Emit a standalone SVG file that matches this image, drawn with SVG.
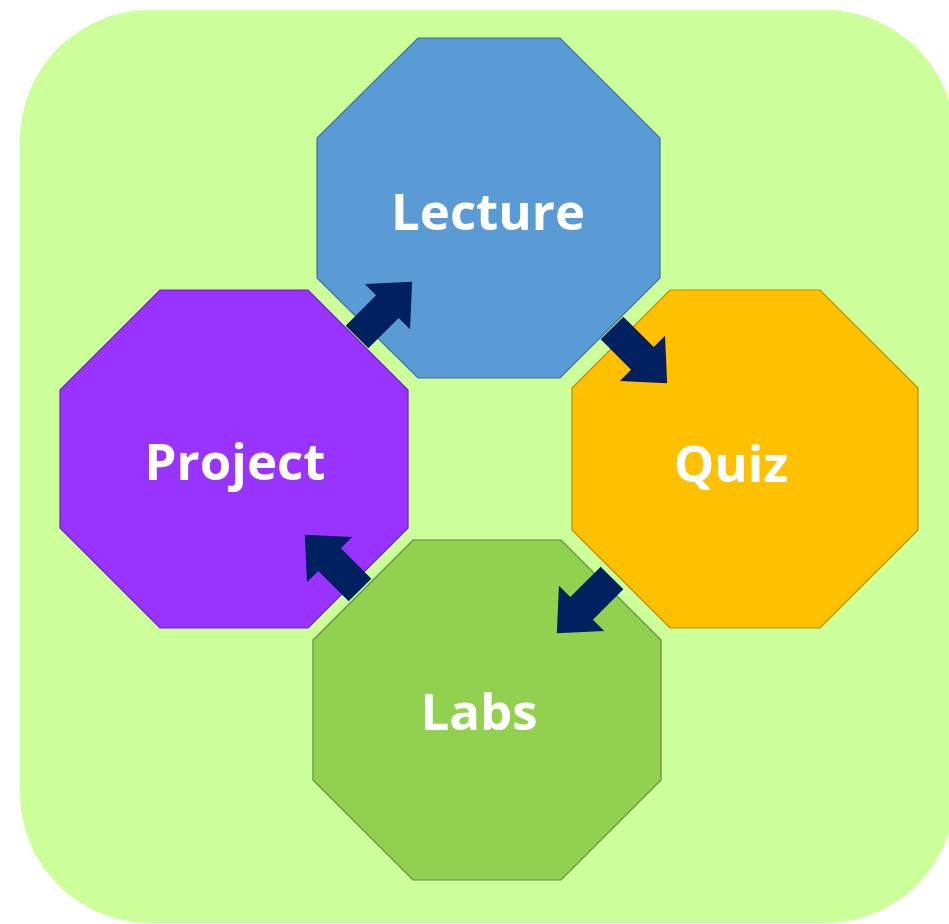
<svg xmlns="http://www.w3.org/2000/svg" width="949" height="924" viewBox="0 0 949 924">
  <defs>
    <style>
      .oct { stroke-width: 1.2; }
      .lbl { font-family: "Open Sans", "Liberation Sans", sans-serif; font-weight: 700; font-size: 51px; fill: #ffffff; text-anchor: middle; }
      .arr { fill: #002060; }
    </style>
    <path id="arrowShape" d="M0,-16 L43,-16 L43,-32 L78,0 L43,32 L43,16 L0,16 Z"/>
  </defs>
  <rect x="0" y="0" width="949" height="924" fill="#ffffff"/>
  <rect id="background" x="20" y="10" width="935" height="913" rx="130" ry="130" fill="#ccff99"/>

  <g id="node-lecture">
    <polygon class="oct" points="418,38 560,38 660,138 660,278 560,378 418,378 317,278 317,138" fill="#5b9bd5" stroke="#41719c"/>
    <text class="lbl" x="488" y="230">Lecture</text>
  </g>
  <g id="node-project">
    <polygon class="oct" points="160,290 308,290 408,390 408,528 308,628 160,628 60,528 60,390" fill="#9933ff" stroke="#7020c0"/>
    <text class="lbl" x="235" y="480">Project</text>
  </g>
  <g id="node-quiz">
    <polygon class="oct" points="670,290 820,290 918,388 918,530 820,628 670,628 572,530 572,388" fill="#ffc000" stroke="#bc8c00"/>
    <text class="lbl" x="731" y="482">Quiz</text>
  </g>
  <g id="node-labs">
    <polygon class="oct" points="413,540 561,540 661,640 661,780 561,880 413,880 313,780 313,640" fill="#92d050" stroke="#5e8f3a"/>
    <text class="lbl" x="479" y="730">Labs</text>
  </g>

  <g id="connectors" class="arr">
    <use href="#arrowShape" transform="translate(357,337) rotate(-45)"/>
    <use href="#arrowShape" transform="translate(612,328) rotate(45)"/>
    <use href="#arrowShape" transform="translate(612,578) rotate(135)"/>
    <use href="#arrowShape" transform="translate(360,590) rotate(-135)"/>
  </g>
</svg>
